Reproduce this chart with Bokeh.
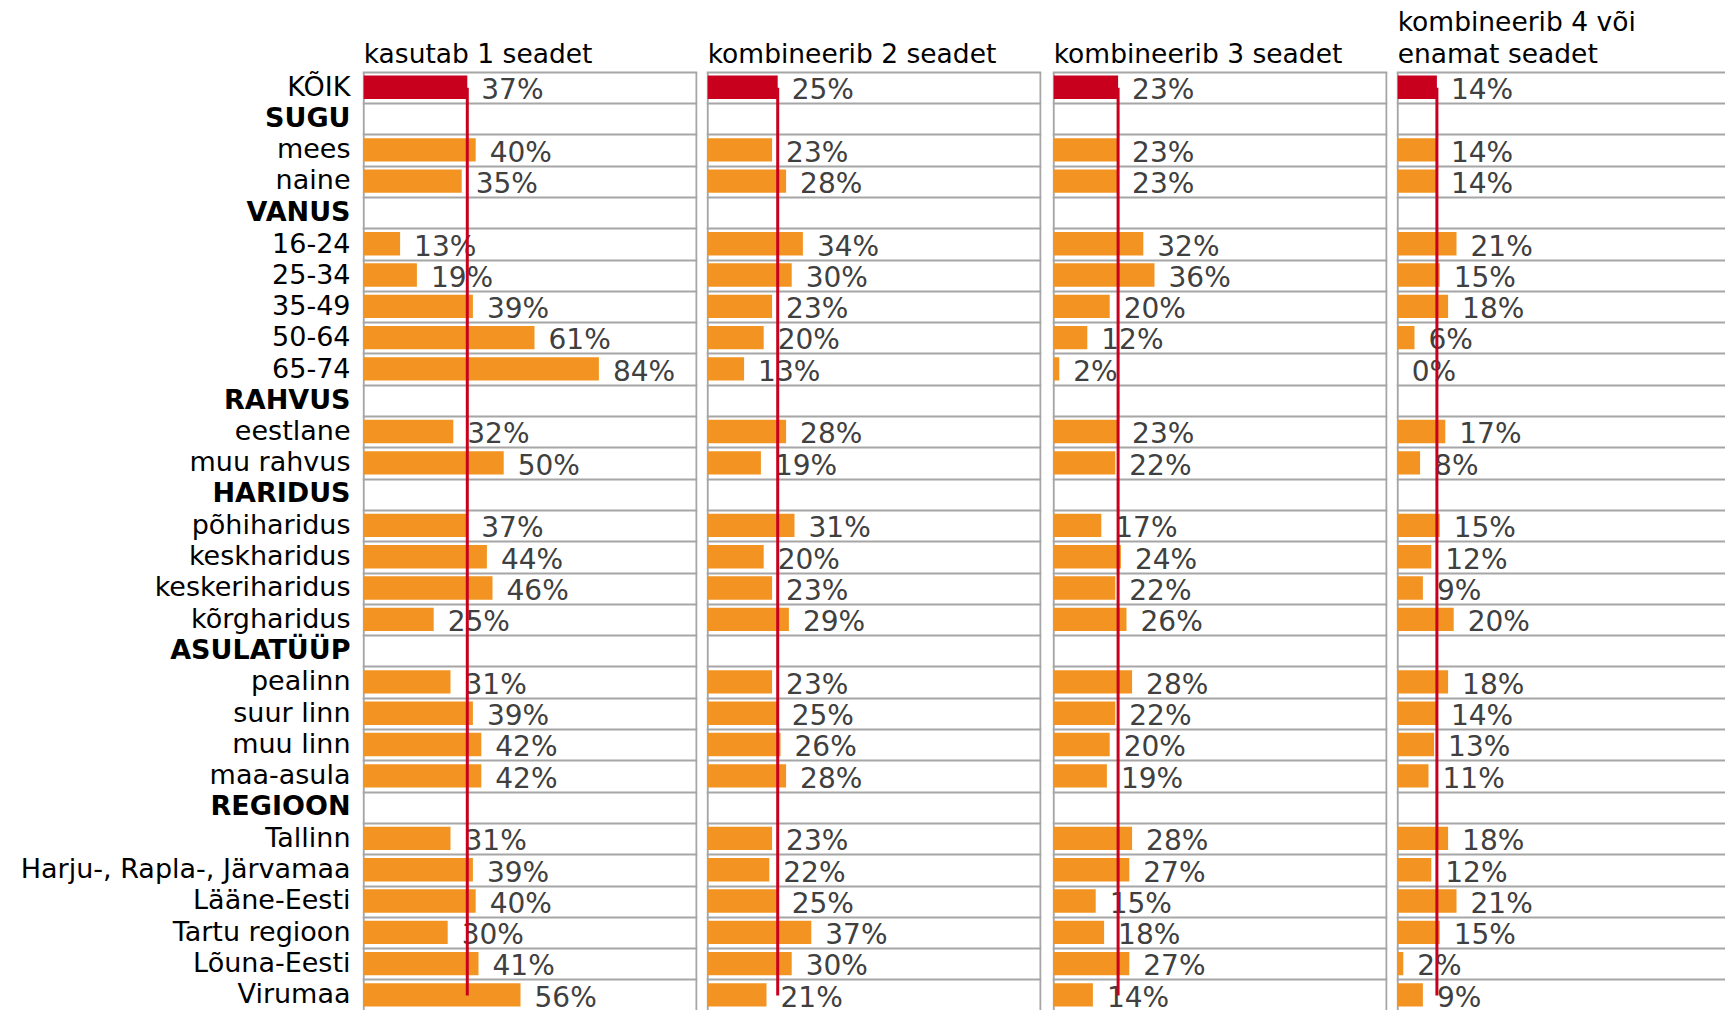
from bokeh.plotting import figure
from bokeh.layouts import row
from bokeh.models import Range1d, FixedTicker, ColumnDataSource
from bokeh.core.properties import value
from bokeh.embed import file_html
from bokeh.resources import INLINE

# ---------------- data ----------------
categories = ["KÕIK", "SUGU", "mees", "naine", "VANUS", "16-24", "25-34", "35-49",
              "50-64", "65-74", "RAHVUS", "eestlane", "muu rahvus", "HARIDUS",
              "põhiharidus", "keskharidus", "keskeriharidus", "kõrgharidus",
              "ASULATÜÜP", "pealinn", "suur linn", "muu linn", "maa-asula",
              "REGIOON", "Tallinn", "Harju-, Rapla-, Järvamaa", "Lääne-Eesti",
              "Tartu regioon", "Lõuna-Eesti", "Virumaa"]
group_headers = ["SUGU", "VANUS", "RAHVUS", "HARIDUS", "ASULATÜÜP", "REGIOON"]
total_label = "KÕIK"

series_titles = [["kasutab 1 seadet"],
                 ["kombineerib 2 seadet"],
                 ["kombineerib 3 seadet"],
                 ["kombineerib 4 või", "enamat seadet"]]

N = None
uses_1 = [37, N, 40, 35, N, 13, 19, 39, 61, 84, N, 32, 50, N, 37, 44, 46, 25,
          N, 31, 39, 42, 42, N, 31, 39, 40, 30, 41, 56]
combines_2 = [25, N, 23, 28, N, 34, 30, 23, 20, 13, N, 28, 19, N, 31, 20, 23, 29,
              N, 23, 25, 26, 28, N, 23, 22, 25, 37, 30, 21]
combines_3 = [23, N, 23, 23, N, 32, 36, 20, 12, 2, N, 23, 22, N, 17, 24, 22, 26,
              N, 28, 22, 20, 19, N, 28, 27, 15, 18, 27, 14]
combines_4plus = [14, N, 14, 14, N, 21, 15, 18, 6, 0, N, 17, 8, N, 15, 12, 9, 20,
                  N, 18, 14, 13, 11, N, 18, 12, 21, 15, 2, 9]
series = [uses_1, combines_2, combines_3, combines_4plus]

# ---------------- style / geometry ----------------
ORANGE = "#F39322"
RED = "#C8001E"
GRID = "#A6A6A6"
TXT = "#404040"
FONT = value("DejaVu Sans")
FS_CAT = "27px"
FS_PCT = "28px"
FS_TTL = "26.5px"

ROW_PX = 31.3        # pixel height of one row
TOP_PX = 71.7        # from frame top to the first row border
H = 1010
PPU = 2.8            # pixels per percent
TSHIFT = 10.0 / ROW_PX   # text baseline correction
y_top = -0.5 - TOP_PX / ROW_PX
y_bot = y_top + H / ROW_PX
nrows = len(categories)
rows_idx = list(range(nrows))


def make_fig(width, frame_w, mbr):
    p = figure(width=width, height=H, output_backend="svg", toolbar_location=None,
               x_axis_location=None, y_axis_location=None,
               x_range=Range1d(-1.2 / PPU, (frame_w - 1.2) / PPU),
               y_range=Range1d(y_bot, y_top),
               min_border_left=0, min_border_top=0, min_border_bottom=0,
               min_border_right=mbr)
    p.outline_line_color = None
    p.background_fill_color = "white"
    p.border_fill_color = "white"
    p.xgrid.visible = False
    p.ygrid.ticker = FixedTicker(ticks=[i - 0.5 for i in range(nrows + 1)])
    p.ygrid.grid_line_color = GRID
    p.ygrid.grid_line_width = 2
    return p


# label column
LW = 362
lab = figure(width=LW, height=H, output_backend="svg", toolbar_location=None,
             x_axis_location=None, y_axis_location=None,
             x_range=Range1d(0, LW), y_range=Range1d(y_bot, y_top),
             min_border=0)
lab.outline_line_color = None
lab.xgrid.visible = False
lab.ygrid.visible = False
lab_src = ColumnDataSource(dict(
    x=[350] * nrows,
    y=[i + 0.5 - 7.5 / ROW_PX - TSHIFT for i in rows_idx],
    t=categories,
    st=["bold" if c in group_headers else "normal" for c in categories],
))
lab.text(x="x", y="y", text="t", source=lab_src, text_align="right",
         text_baseline="alphabetic", text_font=FONT, text_font_size=FS_CAT,
         text_font_style="st", text_color="black")

figs = [lab]
widths = [(344, 335, 9), (346, 335, 11), (344, 335, 9), (329, 329, 0)]
for k, vals in enumerate(series):
    w, fw, mbr = widths[k]
    p = make_fig(w, fw, mbr)
    xmax = (fw - 1.2) / PPU
    # panel borders
    bx = [0.0] + ([xmax - 1.0 / PPU] if k < 3 else [])
    p.segment(x0=bx, x1=bx, y0=[-0.5] * len(bx), y1=[y_bot] * len(bx),
              line_color=GRID, line_width=2)
    idx = [i for i in rows_idx if vals[i] is not None]
    v = [vals[i] for i in idx]
    colors = [RED if categories[i] == total_label else ORANGE for i in idx]
    src = ColumnDataSource(dict(
        y=[i - 0.02 for i in idx], v=v, c=colors,
        ty=[i + 0.5 - 4.0 / ROW_PX - TSHIFT for i in idx],
        lbl=[f"{x}%" for x in v],
    ))
    p.hbar(y="y", left=0, right="v", height=0.745, fill_color="c",
           line_color=None, source=src)
    p.text(x="v", y="ty", text="lbl", source=src, x_offset=14,
           text_align="left", text_baseline="alphabetic", text_font=FONT,
           text_font_size=FS_PCT, text_color=TXT)
    # reference line at the total value
    total = vals[categories.index(total_label)]
    p.segment(x0=[total], x1=[total], y0=[0], y1=[29], line_color=RED,
              line_width=3)
    # title
    tl = series_titles[k]
    ty = [-0.5 - 8.4 / ROW_PX - TSHIFT - (len(tl) - 1 - j) * 32.6 / ROW_PX
          for j in range(len(tl))]
    p.text(x=[0] * len(tl), y=ty, text=tl, text_align="left",
           text_baseline="alphabetic", text_font=FONT, text_font_size=FS_TTL,
           text_color="black")
    figs.append(p)

layout = row(*figs, spacing=0)
open("out.html", "w").write(file_html(layout, INLINE))
